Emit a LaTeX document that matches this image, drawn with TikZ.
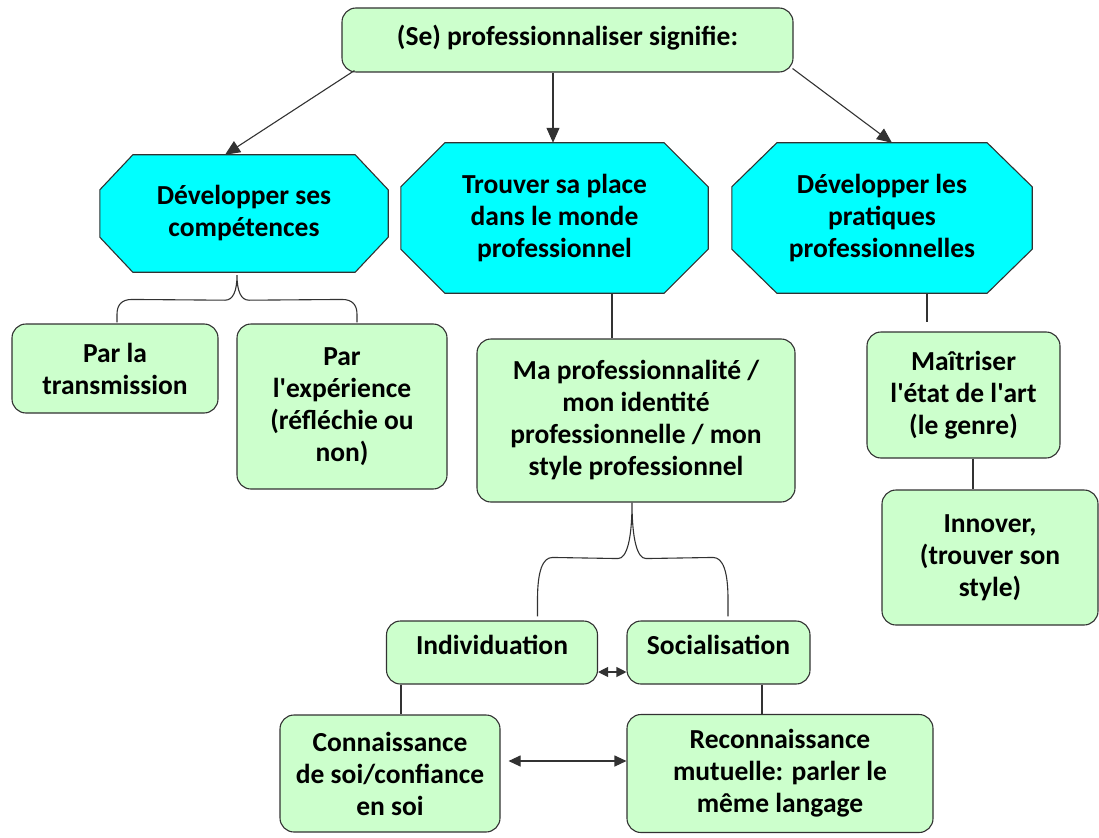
\documentclass[tikz,border=0pt]{standalone}
\usepackage{fontspec}
\setmainfont{Carlito}
\usetikzlibrary{arrows.meta,calc}
\pgfdeclarelayer{background}
\pgfsetlayers{background,main}
\definecolor{boxgreen}{RGB}{204,255,204}
\definecolor{octcyan}{RGB}{0,255,255}
\definecolor{edgegray}{RGB}{50,50,50}
\newcommand{\mysq}{\textquotesingle}
\newcommand{\drawoct}[3]{%
  \begin{pgfonlayer}{background}
  \draw[octshape] ($(#1.north west)+(#2,0)$) -- ($(#1.north east)+(-#2,0)$)
    -- ($(#1.north east)+(0,#3)$) -- ($(#1.south east)+(0,-#3)$)
    -- ($(#1.south east)+(-#2,0)$) -- ($(#1.south west)+(#2,0)$)
    -- ($(#1.south west)+(0,-#3)$) -- ($(#1.north west)+(0,#3)$) -- cycle;
  \end{pgfonlayer}}
\begin{document}
\begin{tikzpicture}[x=1pt,y=-1pt,
  every node/.style={font=\fontsize{27.5}{32}\selectfont\bfseries, align=center, inner sep=0pt},
  gbox/.style={draw=edgegray, line width=1.1pt, fill=boxgreen, rounded corners=14pt},
  octo/.style={rectangle},
  octshape/.style={draw=edgegray, line width=1.1pt, fill=octcyan},
  conn/.style={draw=edgegray, line width=1.1pt},
  arr/.style={conn, -{Triangle[length=15pt,width=13pt]}},
  darr/.style={conn, {Triangle[length=12pt,width=11pt]}-{Triangle[length=12pt,width=11pt]}},
  sarr/.style={conn, {Triangle[length=10pt,width=10pt]}-{Triangle[length=10pt,width=10pt]}}
]
\useasboundingbox (0,0) rectangle (1099,837);

\node[gbox, minimum width=451pt, minimum height=64pt] (top) at (567.5,40) {\raisebox{9pt}{(Se) professionnaliser signifie:}};

\node[octo, minimum width=288pt, minimum height=117pt] (oct1) at (244,213.5) {Développer ses\\compétences};
\node[octo, minimum width=307pt, minimum height=150pt] (oct2) at (554.5,218) {Trouver sa place\\dans le monde\\professionnel};
\node[octo, minimum width=300pt, minimum height=150pt] (oct3) at (882,218) {Développer les\\pratiques\\professionnelles};
\drawoct{oct1}{33}{35}
\drawoct{oct2}{44}{44}
\drawoct{oct3}{45}{44}

\node[gbox, minimum width=206pt, minimum height=89pt] (trans) at (115,368.5) {Par la\\transmission};
\node[gbox, minimum width=210pt, minimum height=165pt] (exp) at (342,406.5) {Par\\l\mysq expérience\\(réfléchie ou\\non)};
\node[gbox, minimum width=318pt, minimum height=163pt] (ma) at (636,420.5) {Ma professionnalité /\\mon identité\\professionnelle / mon\\style professionnel};
\node[gbox, minimum width=211pt, minimum height=63pt] (ind) at (492,652.5) {\raisebox{15pt}{Individuation}};
\node[gbox, minimum width=183pt, minimum height=63pt] (soc) at (718.5,652.5) {\raisebox{15pt}{Socialisation}};
\node[gbox, minimum width=220pt, minimum height=117pt] (cons) at (390,773.5) {Connaissance\\de soi/confiance\\en soi};
\node[gbox, minimum width=306pt, minimum height=118pt] (reco) at (780,773.5) {Reconnaissance\\mutuelle: parler le\\même langage};
\node[gbox, minimum width=193pt, minimum height=126pt] (mait) at (963.5,395) {Maîtriser\\l\mysq état de l\mysq art\\(le genre)};
\node[gbox, minimum width=216pt, minimum height=135pt] (innov) at (990,557.5) {Innover,\\(trouver son\\style)};

% arrows from top
\draw[arr] ($(top.south west)+(13,-2)$) -- ($(oct1.north)+(-19,0)$);
\draw[arr] ($(top.south)+(-14.5,0)$) -- ($(oct2.north)+(-1.5,0)$);
\draw[arr] ($(top.south east)+(-1,-4)$) -- ($(oct3.north)+(10,0)$);

% plain lines
\draw[conn] ($(oct2.south)+(57.5,0)$) -- ($(ma.north)+(-24,0)$);
\draw[conn] ($(oct3.south)+(45,0)$) -- ($(mait.north)+(-36.5,-9)$);
\draw[conn] ($(mait.south)+(9.5,0)$) -- ($(innov.north)+(-17,0)$);
\draw[conn] ($(ind.south)+(-91,0)$) -- ($(cons.north)+(11,0)$);
\draw[conn] ($(soc.south)+(43.5,0)$) -- ($(reco.north)+(-18,0)$);

% double arrows
\draw[sarr] ($(ind.east)+(0,19.5)$) -- ($(soc.west)+(0,19.5)$);
\draw[darr] ($(cons.east)+(8,-12.5)$) -- ($(reco.west)+(0,-12.5)$);

% brace 1
\coordinate (b1) at ($(oct1.south)+(-7,3)$);
\coordinate (b1l) at ($(trans.north)+(2,-1)$);
\coordinate (b1r) at ($(exp.north)+(15,-1)$);
\draw[conn] (b1l) -- ++(0,-8) .. controls +(0,-10) and +(-10,0) .. ($(b1l)+(15,-23)$)
  -- ($(b1)+(-12,25)$) .. controls +(8,0) and +(0,16) .. (b1)
  .. controls +(0,16) and +(-8,0) .. ($(b1)+(12,25)$)
  -- ($(b1r)+(-15,-23)$) .. controls +(10,0) and +(0,-10) .. ($(b1r)+(0,-8)$) -- (b1r);

% brace 2
\coordinate (b2) at ($(ma.south)+(-4,0)$);
\coordinate (b2l) at ($(ind.north)+(45.5,-4)$);
\coordinate (b2r) at ($(soc.north)+(9.5,-4)$);
\draw[conn] (b2l) -- ++(0,-17) .. controls +(0,-28) and +(-10,0) .. ($(b2l)+(15,-59)$)
  -- ($(b2)+(-14,56)$) .. controls +(9,0) and +(0,36) .. (b2)
  .. controls +(0,36) and +(-9,0) .. ($(b2)+(14,56)$)
  -- ($(b2r)+(-15,-59)$) .. controls +(10,0) and +(0,-28) .. ($(b2r)+(0,-17)$) -- (b2r);
\end{tikzpicture}
\end{document}
